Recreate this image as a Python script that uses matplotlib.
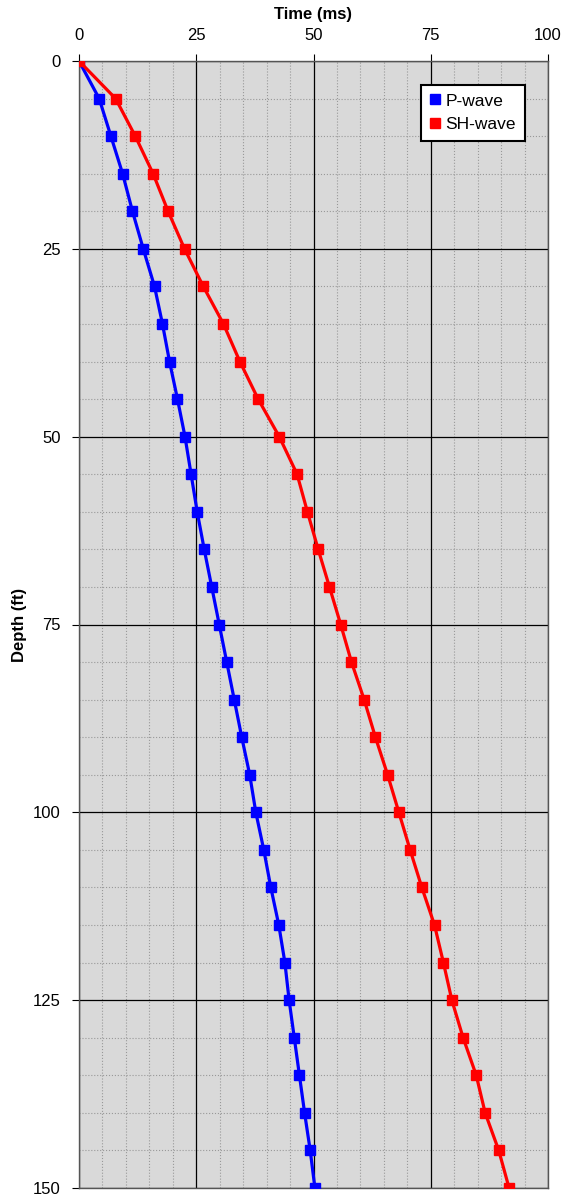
import numpy as np
import matplotlib.pyplot as plt
from matplotlib.ticker import MultipleLocator

plt.rcParams['font.family'] = ['Liberation Sans', 'DejaVu Sans']

# depth every 5 ft
depth = [0, 5, 10, 15, 20, 25, 30, 35, 40, 45, 50, 55, 60, 65, 70, 75,
         80, 85, 90, 95, 100, 105, 110, 115, 120, 125, 130, 135, 140, 145, 150]
# travel times (ms)
p_wave = [0, 4.3, 6.8, 9.3, 11.4, 13.7, 16.1, 17.8, 19.3, 21.0, 22.6, 23.9, 25.2, 26.7, 28.3, 29.9,
          31.5, 33.1, 34.7, 36.4, 37.7, 39.4, 40.9, 42.6, 43.9, 44.8, 45.9, 47.0, 48.1, 49.3, 50.3]
sh_wave = [0, 7.8, 12.0, 15.8, 19.0, 22.5, 26.5, 30.8, 34.3, 38.2, 42.7, 46.5, 48.7, 51.0, 53.4, 55.8,
           58.1, 60.8, 63.2, 65.8, 68.2, 70.6, 73.1, 75.8, 77.7, 79.5, 81.9, 84.7, 86.6, 89.5, 91.7]

fig = plt.figure(figsize=(5.64, 11.98), dpi=100)
ax = fig.add_axes([79/564, 10/1198, 469/564, 1127/1198])
ax.set_facecolor('#d9d9d9')

ax.plot(p_wave, depth, color='#0000ff', lw=2.3, marker='s', ms=7.5, label='P-wave', zorder=3)
ax.plot(sh_wave, depth, color='#ff0000', lw=2.3, marker='s', ms=7.5, label='SH-wave', zorder=3)

ax.set_xlim(0, 100)
ax.set_ylim(150, 0)
ax.xaxis.set_major_locator(MultipleLocator(25))
ax.xaxis.set_minor_locator(MultipleLocator(5))
ax.yaxis.set_major_locator(MultipleLocator(25))
ax.yaxis.set_minor_locator(MultipleLocator(5))
ax.xaxis.tick_top()
ax.xaxis.set_label_position('top')
ax.tick_params(axis='both', which='major', labelsize=12, length=5, direction='out', width=0.8, pad=8)
ax.tick_params(axis='both', which='minor', length=0)

ax.grid(which='major', color='black', lw=0.9, ls='-', zorder=1)
ax.grid(which='minor', color='#999999', lw=0.8, ls=':', zorder=0)
ax.set_axisbelow(True)

for s in ax.spines.values():
    s.set_color('#555555')
    s.set_linewidth(1.0)

ax.set_xlabel('Time (ms)', fontsize=12, fontweight='bold')
ax.set_ylabel('Depth (ft)', fontsize=12, fontweight='bold')
ax.xaxis.set_label_coords(0.5, 1.041)
ax.yaxis.set_label_coords(-0.126, 0.5)
ax.xaxis.label.set_va('center')
ax.yaxis.label.set_va('center')

leg = ax.legend(loc='upper right', bbox_to_anchor=(0.950, 0.979), fontsize=12.5,
                fancybox=False, framealpha=1, edgecolor='black', handlelength=0.6,
                handletextpad=0.3, borderpad=0.5, labelspacing=0.5, markerscale=1.0,
                borderaxespad=0)
leg.get_frame().set_linewidth(1.5)
for h in leg.legend_handles:
    h.set_linestyle('none')

fig.savefig('out.png', dpi=100)
